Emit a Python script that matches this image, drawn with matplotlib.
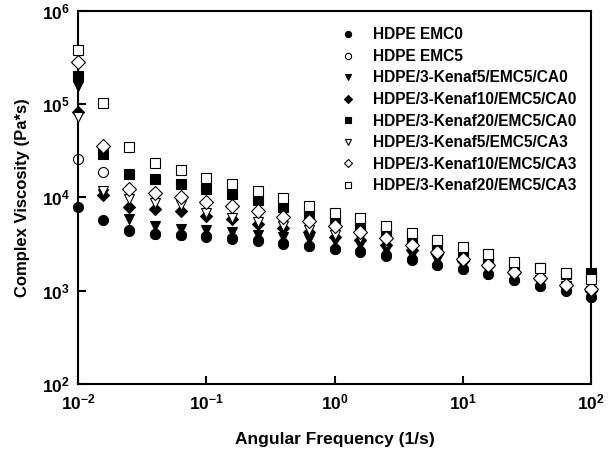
import numpy as np
import matplotlib.pyplot as plt
from matplotlib.ticker import FixedLocator, FixedFormatter, NullLocator

plt.rcParams['font.family'] = ['Liberation Sans', 'DejaVu Sans']
plt.rcParams['font.weight'] = 'bold'
plt.rcParams['mathtext.fontset'] = 'custom'
plt.rcParams['mathtext.rm'] = 'Liberation Sans:bold'
plt.rcParams['mathtext.bf'] = 'Liberation Sans:bold'
plt.rcParams['mathtext.it'] = 'Liberation Sans:bold'

freq = [0.01, 0.0158, 0.0251, 0.0398, 0.0631, 0.1, 0.158, 0.251, 0.398, 0.631,
        1, 1.58, 2.51, 3.98, 6.31, 10, 15.8, 25.1, 39.8, 63.1, 100]

emc0 = [7950, 5700, 4400, 4000, 3900, 3800, 3600, 3440, 3160, 2970, 2780,
        2620, 2360, 2140, 1890, 1700, 1510, 1300, 1120, 1000, 850]
emc5 = [26000, 18800, 4450, 4050, 3950, 3850, 3650, 3480, 3200, 3000, 2800,
        2640, 2380, 2160, 1900, 1710, 1520, 1310, 1130, 1010, 860]
k5_ca0 = [158000, 10800, 5800, 4900, 4600, 4470, 4300, 3960, 3740, 3560, 3360,
          3090, 2740, 2410, 2150, 1900, 1680, 1450, 1250, 1100, 950]
k10_ca0 = [82000, 10500, 7800, 7450, 7100, 6300, 5900, 5200, 4700, 4250, 3800,
           3500, 3100, 2750, 2450, 2100, 1820, 1550, 1330, 1130, 980]
k20_ca0 = [200000, 28800, 17900, 15900, 14000, 12200, 10800, 9250, 7850, 6760,
           5830, 5070, 4300, 3560, 2970, 2520, 2140, 1850, 1750, 1500, 1560]
k5_ca3 = [73000, 11700, 9500, 8800, 8200, 6850, 6070, 5500, 4940, 4480, 3960,
          3650, 3230, 2850, 2500, 2150, 1850, 1550, 1300, 1120, 980]
k10_ca3 = [280000, 35400, 12200, 11200, 10200, 9000, 8070, 7200, 6200, 5600,
           4940, 4300, 3650, 3090, 2620, 2190, 1890, 1600, 1360, 1150, 1040]
k20_ca3 = [383000, 103000, 34500, 23500, 19500, 16200, 14000, 11600, 9800, 8100,
           6870, 5980, 4940, 4130, 3500, 2900, 2480, 2050, 1740, 1540, 1330]

labels = ['HDPE EMC0', 'HDPE EMC5', 'HDPE/3-Kenaf5/EMC5/CA0',
          'HDPE/3-Kenaf10/EMC5/CA0', 'HDPE/3-Kenaf20/EMC5/CA0',
          'HDPE/3-Kenaf5/EMC5/CA3', 'HDPE/3-Kenaf10/EMC5/CA3',
          'HDPE/3-Kenaf20/EMC5/CA3']
series = [emc0, emc5, k5_ca0, k10_ca0, k20_ca0, k5_ca3, k10_ca3, k20_ca3]
markers = ['o', 'o', 'v', 'D', 's', 'v', 'D', 's']
filled = [True, False, True, True, True, False, False, False]
sizes = [7.2, 7.2, 7.8, 6.3, 7.2, 7.8, 7.0, 7.6]
zorders = [3, 2, 3, 3, 3, 3, 3, 3]

xticks = [0.01, 0.1, 1, 10, 100]
xtick_labels = [r'$10^{-2}$', r'$10^{-1}$', r'$10^{0}$', r'$10^{1}$', r'$10^{2}$']
yticks = [1e2, 1e3, 1e4, 1e5, 1e6]
ytick_labels = [r'$10^{2}$', r'$10^{3}$', r'$10^{4}$', r'$10^{5}$', r'$10^{6}$']

fig = plt.figure(figsize=(6.14, 4.5), dpi=100)
ax = fig.add_axes([0.127, 0.147, 0.836, 0.829])

for vals, lab, m, f, s, z in zip(series, labels, markers, filled, sizes, zorders):
    ax.plot(freq, vals, linestyle='none', marker=m, markersize=s,
            markerfacecolor='black' if f else 'white',
            markeredgecolor='black', markeredgewidth=0.8, label=lab,
            clip_on=False, zorder=z)

ax.set_xscale('log')
ax.set_yscale('log')
ax.set_xlim(0.01, 100)
ax.set_ylim(1e2, 1e6)

ax.xaxis.set_major_locator(FixedLocator(xticks))
ax.xaxis.set_major_formatter(FixedFormatter(xtick_labels))
ax.yaxis.set_major_locator(FixedLocator(yticks))
ax.yaxis.set_major_formatter(FixedFormatter(ytick_labels))
ax.xaxis.set_minor_locator(NullLocator())
ax.yaxis.set_minor_locator(NullLocator())
ax.tick_params(direction='in', length=6, width=1.5, labelsize=12.5, pad=6)

for sp in ax.spines.values():
    sp.set_linewidth(1.5)

ax.set_xlabel('Angular Frequency (1/s)', fontsize=12.5, fontweight='bold', labelpad=14)
ax.set_ylabel('Complex Viscosity (Pa*s)', fontsize=12, fontweight='bold', labelpad=8)

leg = ax.legend(loc='upper right', bbox_to_anchor=(0.998, 0.993), frameon=False,
                fontsize=11.2, markerscale=0.62, handletextpad=1.0,
                labelspacing=0.42, handlelength=1.2)

fig.savefig('out.png', dpi=100)
